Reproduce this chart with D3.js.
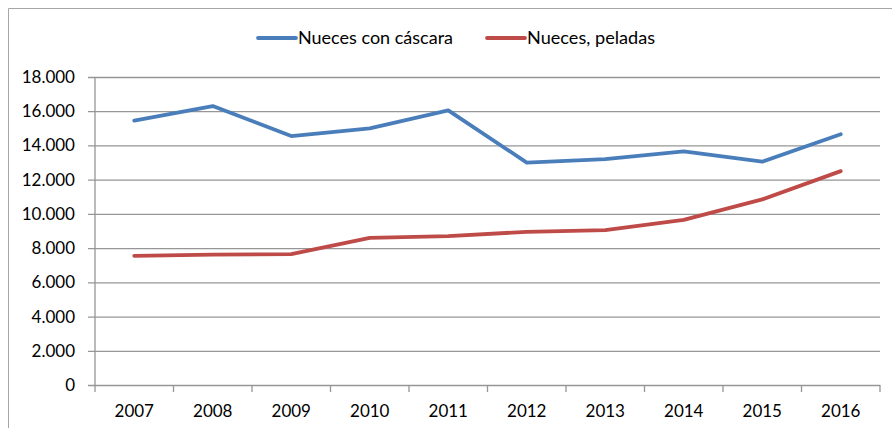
<!DOCTYPE html>
<html lang="es">
<head>
    <meta charset="UTF-8">
    <title>Nueces</title>
    <script src="https://cdn.jsdelivr.net/npm/d3@7"></script>
    <style>
        body { margin: 0; background: #fff; }
        text { font-family: Lato, "Open Sans", sans-serif; fill: #000; }
    </style>
</head>
<body>
<script>
    // categorias (años)
    var years = ["2007", "2008", "2009", "2010", "2011", "2012", "2013", "2014", "2015", "2016"];
    // series
    var conCascara = [15450, 16300, 14550, 15000, 16050, 13000, 13200, 13650, 13050, 14650];
    var peladas = [7550, 7620, 7650, 8600, 8700, 8950, 9050, 9650, 10850, 12500];
    var seriesNames = ["Nueces con cáscara", "Nueces, peladas"];
    var yTicks = [0, 2000, 4000, 6000, 8000, 10000, 12000, 14000, 16000, 18000];

    var colors = ["#4a7ebb", "#be4b48"];
    var width = 892, height = 428;
    var margin = {left: 95, right: 12, top: 77, bottom: 43};

    var svg = d3.select("body").append("svg")
        .attr("width", width)
        .attr("height", height);

    // marco
    svg.append("path")
        .attr("d", "M8.5," + height + "V8.5H" + width)
        .attr("fill", "none")
        .attr("stroke", "#a6a6a6")
        .attr("stroke-width", 1);

    var x = d3.scaleBand()
        .domain(years)
        .range([margin.left, width - margin.right]);
    var y = d3.scaleLinear()
        .domain([0, 18000])
        .range([height - margin.bottom, margin.top]);

    // formato 18.000
    var fmt = function (v) {
        return d3.format(",")(v).replace(/,/g, ".");
    };

    // lineas de cuadricula + eje y
    var yAxis = d3.axisLeft(y)
        .tickValues(yTicks)
        .tickFormat(fmt)
        .tickSize(-(width - margin.right - margin.left))
        .tickPadding(20);
    var gy = svg.append("g")
        .attr("transform", "translate(" + margin.left + ",0)")
        .call(yAxis);
    gy.select(".domain").remove();
    gy.selectAll(".tick line")
        .attr("stroke", "#969696")
        .attr("x1", -7)
        .attr("stroke-width", 1.3);
    gy.selectAll(".tick text")
        .style("font-size", "17px");

    // eje y vertical
    svg.append("line")
        .attr("x1", margin.left).attr("x2", margin.left)
        .attr("y1", y(18000)).attr("y2", y(0) + 7)
        .attr("stroke", "#969696")
        .attr("stroke-width", 1.3);

    // eje x
    var xAxis = d3.axisBottom(x).tickSize(0).tickPadding(20);
    var gx = svg.append("g")
        .attr("transform", "translate(0," + y(0) + ")")
        .call(xAxis);
    gx.select(".domain").remove();
    gx.selectAll(".tick text").style("font-size", "17px");

    // marcas entre categorias
    var edges = years.map(function (d) { return x(d); }).concat([x.range()[1]]);
    svg.append("g").selectAll("line")
        .data(edges.slice(1))
        .enter().append("line")
        .attr("x1", function (d) { return d; })
        .attr("x2", function (d) { return d; })
        .attr("y1", y(0))
        .attr("y2", y(0) + 7)
        .attr("stroke", "#969696")
        .attr("stroke-width", 1.3);

    // lineas de datos
    var line = d3.line()
        .x(function (d, i) { return x(years[i]) + x.bandwidth() / 2; })
        .y(function (d) { return y(d); });

    [conCascara, peladas].forEach(function (s, i) {
        svg.append("path")
            .datum(s)
            .attr("fill", "none")
            .attr("stroke", colors[i])
            .attr("stroke-width", 3.8)
            .attr("stroke-linejoin", "round")
            .attr("stroke-linecap", "round")
            .attr("d", line);
    });

    // leyenda
    var legendX = [258, 487];
    var legendW = [155, 128];
    var legend = svg.append("g").selectAll("g")
        .data(seriesNames)
        .enter().append("g")
        .attr("transform", function (d, i) { return "translate(" + legendX[i] + ",38)"; });
    legend.append("line")
        .attr("x1", 0).attr("x2", 38)
        .attr("stroke", function (d, i) { return colors[i]; })
        .attr("stroke-width", 3.8)
        .attr("stroke-linecap", "round");
    legend.append("text")
        .attr("x", 40)
        .attr("dy", "0.35em")
        .style("font-size", "16.5px")
        .attr("textLength", function (d, i) { return legendW[i]; })
        .attr("lengthAdjust", "spacingAndGlyphs")
        .text(function (d) { return d; });
</script>
</body>
</html>
